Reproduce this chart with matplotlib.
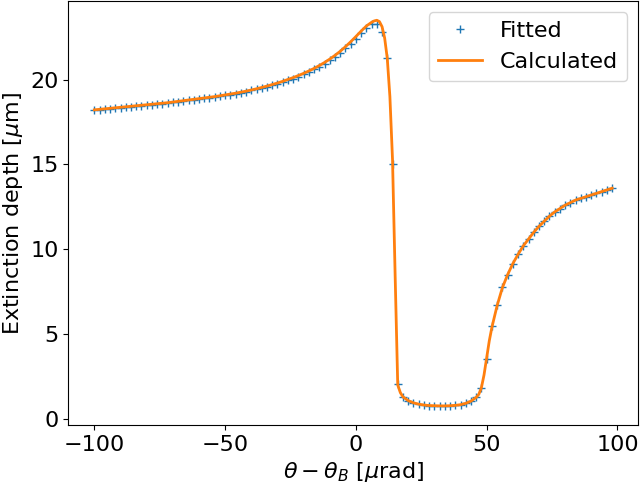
import numpy as np
import matplotlib
matplotlib.use('Agg')
import matplotlib.pyplot as plt

# fitted points, step of 2 urad
fit_theta = list(range(-100, 100, 2))
fit_depth = [
    18.20, 18.23, 18.26, 18.29, 18.32, 18.35, 18.38, 18.41, 18.44, 18.47,
    18.50, 18.53, 18.56, 18.59, 18.62, 18.66, 18.70, 18.74, 18.78, 18.82,
    18.86, 18.90, 18.94, 18.98, 19.02, 19.07, 19.12, 19.17, 19.23, 19.29,
    19.36, 19.43, 19.50, 19.58, 19.66, 19.75, 19.85, 19.95, 20.06, 20.18,
    20.31, 20.45, 20.60, 20.76, 20.94, 21.13, 21.35, 21.58, 21.84, 22.12,
    22.42, 22.74, 23.05, 23.25, 23.30, 22.80, 21.30, 15.00, 2.05, 1.30,
    1.08, 0.95, 0.87, 0.82, 0.79, 0.78, 0.77, 0.77, 0.78, 0.80,
    0.84, 0.92, 1.05, 1.27, 1.80, 3.55, 5.45, 6.70, 7.75, 8.50,
    9.15, 9.70, 10.20, 10.60, 11.00, 11.35, 11.65, 11.95, 12.20, 12.40,
    12.60, 12.75, 12.90, 13.00, 13.10, 13.20, 13.30, 13.40, 13.50, 13.60,
]

# calculated curve, finer sampling around the total reflection edges
calc_theta = (list(range(-100, 6, 2)) + list(range(6, 19))
              + list(range(20, 47, 2)) + list(range(47, 53))
              + list(range(54, 100, 2)))
calc_depth = [
    18.22, 18.25, 18.28, 18.31, 18.34, 18.37, 18.40, 18.43, 18.46, 18.49,
    18.52, 18.55, 18.58, 18.61, 18.64, 18.68, 18.72, 18.76, 18.80, 18.84,
    18.88, 18.92, 18.96, 19.00, 19.05, 19.10, 19.15, 19.20, 19.26, 19.32,
    19.39, 19.46, 19.54, 19.62, 19.71, 19.80, 19.90, 20.01, 20.12, 20.24,
    20.37, 20.51, 20.66, 20.83, 21.01, 21.21, 21.43, 21.67, 21.94, 22.23,
    22.54, 22.86, 23.16,
    23.38, 23.46, 23.50, 23.42, 23.12, 22.45, 21.25, 19.00, 15.30, 8.50,
    2.00, 1.55, 1.30,
    1.08, 0.95, 0.87, 0.82, 0.79, 0.78, 0.77, 0.77, 0.78, 0.80,
    0.84, 0.92, 1.05, 1.27,
    1.45, 1.85, 2.60, 3.60, 4.60, 5.40,
    6.68, 7.73, 8.50, 9.15, 9.70, 10.20, 10.60, 11.00, 11.35, 11.65,
    11.95, 12.20, 12.40, 12.60, 12.75, 12.90, 13.00, 13.10, 13.20, 13.30,
    13.40, 13.50, 13.60,
]

plt.rcParams['font.size'] = 16

fig, ax = plt.subplots(figsize=(6.4, 4.87), dpi=100)
fig.subplots_adjust(left=0.107, right=0.997, top=0.998, bottom=0.127)

ax.plot(fit_theta, fit_depth, '+', color='C0', label='Fitted')
ax.plot(calc_theta, calc_depth, '-', color='C1', linewidth=2, label='Calculated')

ax.set_xlabel(r'$\theta - \theta_B$ [$\mu$rad]')
ax.set_ylabel(r'Extinction depth [$\mu$m]')
ax.set_xticks([-100, -50, 0, 50, 100])
ax.set_yticks([0, 5, 10, 15, 20])
ax.legend(loc='upper right')

fig.savefig('out.png', dpi=100)
plt.close(fig)
